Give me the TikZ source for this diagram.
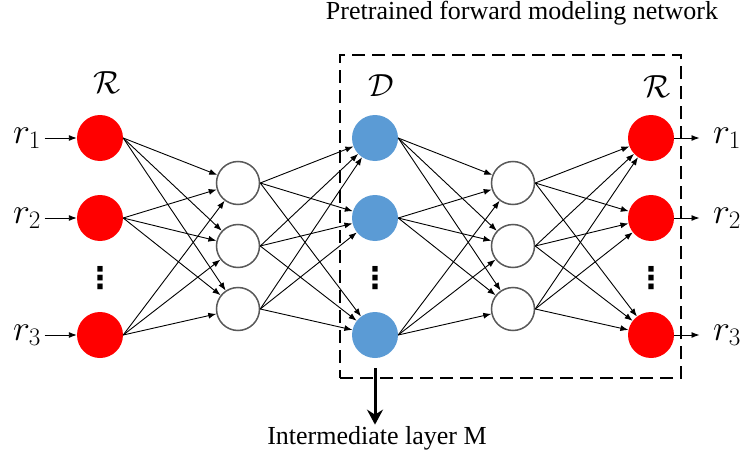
\RequirePackage{fix-cm}
\documentclass[tikz,border=0pt]{standalone}
\usepackage{fontspec}
\setmainfont{Liberation Serif}
\newfontfamily\symfont{DejaVu Sans}
\usetikzlibrary{arrows.meta}
\definecolor{dblue}{RGB}{91,155,213}
\tikzset{
  rnode/.style={circle, fill=red, inner sep=0pt, minimum size=46pt},
  dnode/.style={circle, fill=dblue, inner sep=0pt, minimum size=46pt},
  hnode/.style={circle, draw=black!65, line width=1.5pt, fill=white, inner sep=0pt, minimum size=43pt},
  link/.style={-{Latex[length=8pt,width=6pt]}, line width=0.9pt},
  rlabel/.style={font=\fontsize{36}{40}\selectfont},
  setlabel/.style={font=\fontsize{32}{36}\selectfont},
  caption/.style={font=\rmfamily\fontsize{26}{30}\selectfont},
  vdot/.style={font=\symfont\bfseries\fontsize{30}{34}\selectfont, inner sep=0pt},
}

\begin{document}
\begin{tikzpicture}[x=1pt,y=-1pt]
\useasboundingbox (0,0) rectangle (740,455);
\node[rnode] (a1) at (100,138) {};
\node[rnode] (a2) at (100,218) {};
\node[rnode] (a3) at (100,335) {};
\node[vdot] (adots) at (100,278) {⋮};
\node[hnode] (h1) at (238,183) {};
\node[hnode] (h2) at (238,246) {};
\node[hnode] (h3) at (238,309) {};
\node[dnode] (d1) at (375,138) {};
\node[dnode] (d2) at (375,218) {};
\node[dnode] (d3) at (375,335) {};
\node[vdot] (ddots) at (375,278) {⋮};
\node[hnode] (g1) at (513,183) {};
\node[hnode] (g2) at (513,246) {};
\node[hnode] (g3) at (513,309) {};
\node[rnode] (b1) at (651,138) {};
\node[rnode] (b2) at (651,218) {};
\node[rnode] (b3) at (651,335) {};
\node[vdot] (bdots) at (651,278) {⋮};
\foreach \i in {1,2,3} {
  \foreach \j in {1,2,3} {
    \draw[link] (a\i.east) -- (h\j);
    \draw[link] (h\i.east) -- (d\j);
    \draw[link] (d\i.east) -- (g\j);
    \draw[link] (g\i.east) -- (b\j);
  }
}
\node[rlabel] (rin1) at (27,138) {$r_1$};
\node[rlabel] (rin2) at (27,218) {$r_2$};
\node[rlabel] (rin3) at (27,335) {$r_3$};
\node[rlabel] (rout1) at (727,138) {$r_1$};
\node[rlabel] (rout2) at (727,218) {$r_2$};
\node[rlabel] (rout3) at (727,335) {$r_3$};
\foreach \i in {1,2,3} {
  \draw[link] (rin\i) -- (a\i);
  \draw[link, shorten >=10pt] (b\i.east) -- (rout\i);
}
\node[setlabel] (setin) at (107,83) {$\mathcal{R}$};
\node[setlabel] (setmid) at (381,86) {$\mathcal{D}$};
\node[setlabel] (setout) at (657,87) {$\mathcal{R}$};
\node[draw, dashed, dash pattern=on 13pt off 7pt, line width=1.6pt, minimum width=341pt, minimum height=323pt, inner sep=0pt] (frame) at (510.5,216.5) {};
\node[caption] (title) at (522,13) {Pretrained forward modeling network};
\node[caption] (mlabel) at (377,438) {Intermediate layer M};
\draw[line width=3pt, -{Stealth[length=15pt,width=16pt,inset=5pt]}] ([yshift=-10pt]d3.south) -- ([yshift=-2pt]d3.south |- mlabel.north);
\end{tikzpicture}
\end{document}
